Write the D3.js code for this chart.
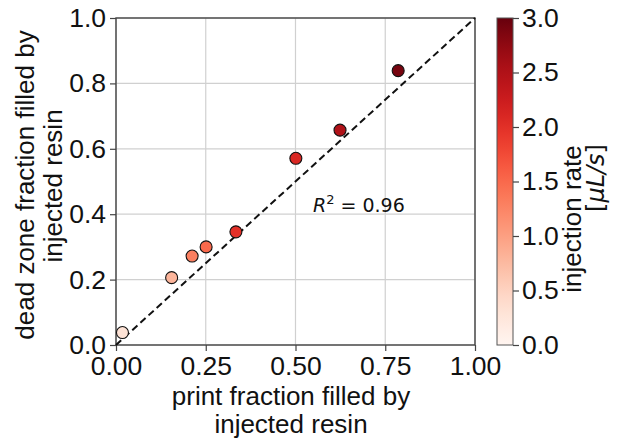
<!DOCTYPE html>
<html>
<head>
<meta charset="utf-8">
<script src="https://cdn.jsdelivr.net/npm/d3@7"></script>
<style>
  body { margin: 0; background: #fff; }
  text { font-family: "Liberation Sans", Arial, sans-serif; fill: #111; }
</style>
</head>
<body>
<div id="chart"></div>
<script>
const printFraction = [0.018, 0.155, 0.212, 0.251, 0.334, 0.501, 0.624, 0.786]
const deadZoneFraction = [0.038, 0.206, 0.272, 0.300, 0.346, 0.571, 0.657, 0.839]
const injectionRate = [0.3, 0.8, 1.3, 1.5, 2.0, 2.1, 2.5, 2.9]
const xTicks = [0, 0.25, 0.5, 0.75, 1.0]
const yTicks = [0, 0.2, 0.4, 0.6, 0.8, 1.0]
const cbTicks = [0, 0.5, 1.0, 1.5, 2.0, 2.5, 3.0]

const width = 621
const height = 438
const plot = { left: 116, right: 475, top: 18, bottom: 345 }
const bar = { left: 497, right: 513 }

const svg = d3.select("#chart").append("svg")
    .attr("width", width)
    .attr("height", height)

const x = d3.scaleLinear().domain([0, 1]).range([plot.left, plot.right])
const y = d3.scaleLinear().domain([0, 1]).range([plot.bottom, plot.top])
const c = d3.scaleSequential(d3.interpolateReds).domain([0, 3])
const cy = d3.scaleLinear().domain([0, 3]).range([plot.bottom, plot.top])

// grid
svg.append("g").selectAll("line").data(xTicks).enter().append("line")
    .attr("x1", d => x(d)).attr("x2", d => x(d))
    .attr("y1", plot.top).attr("y2", plot.bottom)
    .attr("stroke", "#d0d0d0").attr("stroke-width", 1.2)
svg.append("g").selectAll("line").data(yTicks).enter().append("line")
    .attr("y1", d => y(d)).attr("y2", d => y(d))
    .attr("x1", plot.left).attr("x2", plot.right)
    .attr("stroke", "#d0d0d0").attr("stroke-width", 1.2)

// axes
const xAxis = svg.append("g")
    .attr("transform", `translate(0,${plot.bottom})`)
    .call(d3.axisBottom(x).tickValues(xTicks).tickFormat(d3.format(".2f")).tickSize(6).tickPadding(4))
const yAxis = svg.append("g")
    .attr("transform", `translate(${plot.left},0)`)
    .call(d3.axisLeft(y).tickValues(yTicks).tickFormat(d3.format(".1f")).tickSize(6).tickPadding(4))
;[xAxis, yAxis].forEach(a => {
    a.select(".domain").remove()
    a.selectAll("line").attr("stroke", "#444").attr("stroke-width", 1.2)
    a.selectAll("text").style("font-size", "26.5px").attr("fill", "#111")
})
xAxis.selectAll("text").attr("dy", "0.74em")

// frame
svg.append("rect")
    .attr("x", plot.left).attr("y", plot.top)
    .attr("width", plot.right - plot.left).attr("height", plot.bottom - plot.top)
    .attr("fill", "none").attr("stroke", "#444").attr("stroke-width", 1.4)

// identity line
svg.append("line")
    .attr("x1", x(0)).attr("y1", y(0)).attr("x2", x(1)).attr("y2", y(1))
    .attr("stroke", "#111").attr("stroke-width", 2).attr("stroke-dasharray", "7,4")

// points
const pts = printFraction.map((p, i) => ({ p, d: deadZoneFraction[i], r: injectionRate[i] }))
svg.append("g").selectAll("circle").data(pts).enter().append("circle")
    .attr("cx", d => x(d.p)).attr("cy", d => y(d.d)).attr("r", 6)
    .attr("fill", d => c(d.r)).attr("stroke", "#111").attr("stroke-width", 1.1)

// R^2 annotation
const r2 = svg.append("text")
    .attr("x", 313).attr("y", 212)
    .style("font-family", "'DejaVu Sans', sans-serif").style("font-size", "19px")
r2.append("tspan").style("font-style", "italic").text("R")
r2.append("tspan").attr("dy", -8).style("font-size", "13px").text("2")
r2.append("tspan").attr("dy", 8).text(" = 0.96")

// axis labels
svg.append("text").attr("text-anchor", "middle").style("font-size", "26px")
    .attr("x", 291).attr("y", 405).text("print fraction filled by")
svg.append("text").attr("text-anchor", "middle").style("font-size", "26px")
    .attr("x", 291).attr("y", 433).text("injected resin")

svg.append("text").attr("text-anchor", "middle").style("font-size", "26px")
    .attr("transform", "translate(34,185) rotate(-90)").text("dead zone fraction filled by")
svg.append("text").attr("text-anchor", "middle").style("font-size", "26px")
    .attr("transform", "translate(62,186) rotate(-90)").text("injected resin")

// colorbar
const defs = svg.append("defs")
const grad = defs.append("linearGradient").attr("id", "cbar")
    .attr("x1", 0).attr("y1", 1).attr("x2", 0).attr("y2", 0)
d3.range(0, 1.0001, 0.05).forEach(t => {
    grad.append("stop").attr("offset", t).attr("stop-color", c(t * 3))
})
svg.append("rect")
    .attr("x", bar.left).attr("y", plot.top)
    .attr("width", bar.right - bar.left).attr("height", plot.bottom - plot.top)
    .attr("fill", "url(#cbar)").attr("stroke", "#555").attr("stroke-width", 1)

const cAxis = svg.append("g")
    .attr("transform", `translate(${bar.right},0)`)
    .call(d3.axisRight(cy).tickValues(cbTicks).tickFormat(d3.format(".1f")).tickSize(6).tickPadding(3))
cAxis.select(".domain").remove()
cAxis.selectAll("line").attr("stroke", "#444").attr("stroke-width", 1.2)
cAxis.selectAll("text").style("font-size", "26.5px").attr("fill", "#111")

svg.append("text").attr("text-anchor", "middle").style("font-size", "26px")
    .attr("transform", "translate(581,219) rotate(-90)").text("injection rate")
const unit = svg.append("text").attr("text-anchor", "middle")
    .attr("transform", "translate(604,178) rotate(-90)")
    .style("font-family", "'DejaVu Sans', sans-serif").style("font-size", "24px")
unit.append("tspan").text("[")
unit.append("tspan").style("font-style", "italic").text("μL/s")
unit.append("tspan").text("]")
</script>
</body>
</html>
